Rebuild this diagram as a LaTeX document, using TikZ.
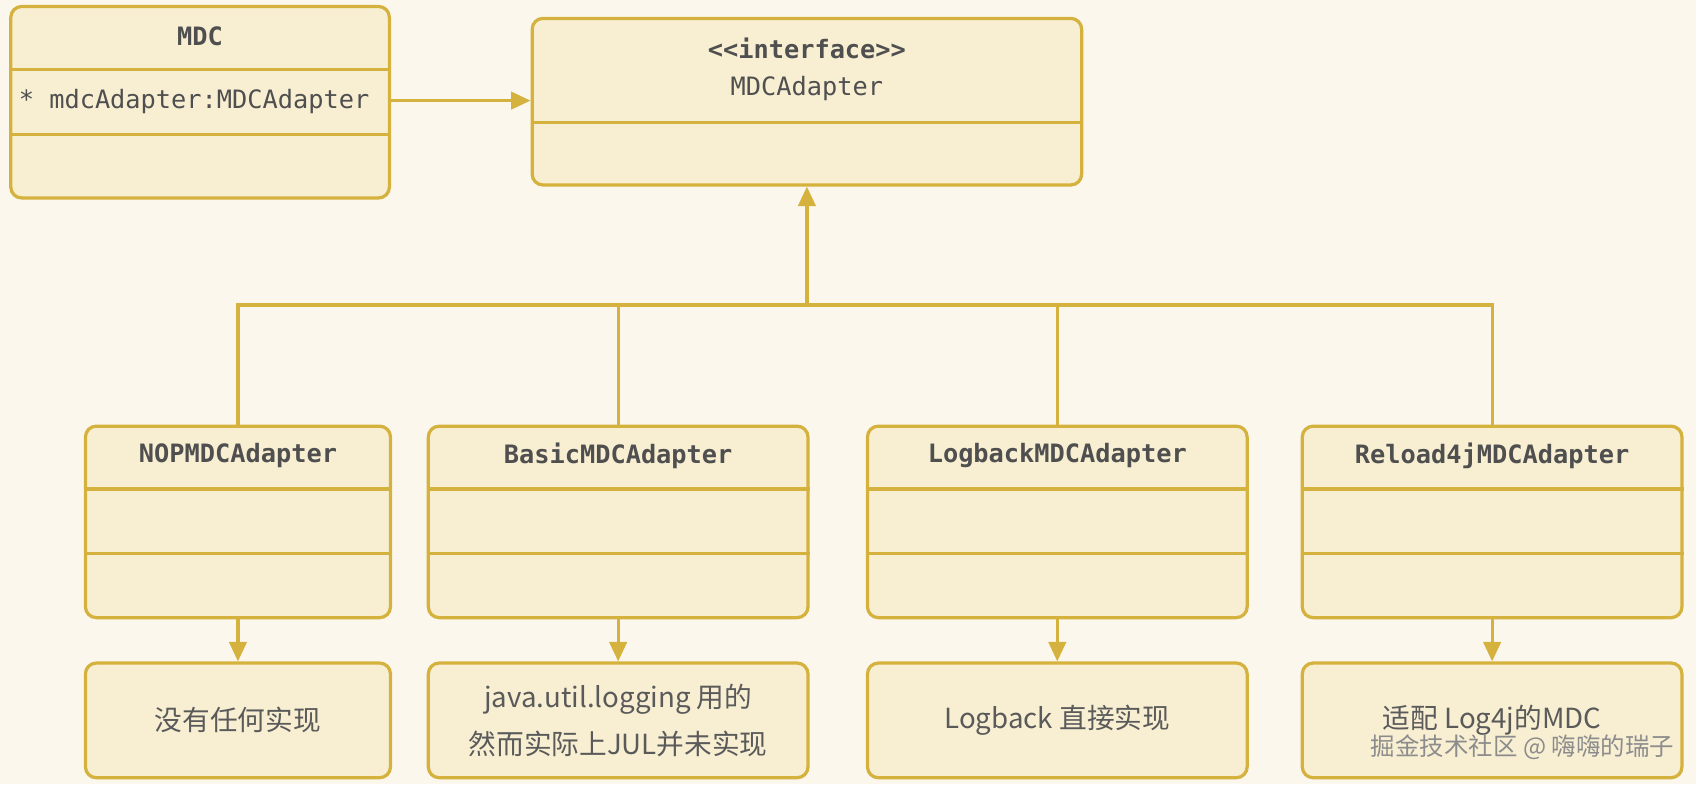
\documentclass[tikz,border=0pt]{standalone}
\usepackage{fontspec}
\setmonofont{DejaVu Sans Mono}
\newfontfamily\cjk{Noto Sans CJK SC}
\usetikzlibrary{fit,arrows.meta,calc}
\definecolor{bg}{HTML}{FBF7EC}
\definecolor{bfill}{HTML}{F8EFD3}
\definecolor{bline}{HTML}{D5B23E}
\definecolor{txt}{HTML}{4F4F4F}
\definecolor{ntxt}{HTML}{5A5A5A}
\begin{document}
\begin{tikzpicture}[x=0.5pt,y=-0.5pt,
 box/.style={draw=bline, fill=bfill, line width=1.5pt, rounded corners=5pt, inner sep=0pt},
 div/.style={draw=bline, line width=1.5pt},
 conn/.style={draw=bline, line width=1.5pt},
 arr/.style={conn, -{Triangle[length=9pt,width=8pt]}},
 mono/.style={font=\ttfamily\fontsize{11.7pt}{14pt}\selectfont, text=txt, inner sep=0pt},
 monob/.style={font=\ttfamily\bfseries\fontsize{11.7pt}{14pt}\selectfont, text=txt, inner sep=0pt},
 note/.style={font=\cjk\fontsize{12.8pt}{21.5pt}\selectfont, text=ntxt, align=center, inner sep=0pt},
 wm/.style={font=\cjk\fontsize{11.3pt}{13pt}\selectfont, text=black!45, inner sep=0pt}]
\fill[bg] (0,0) rectangle (1568,725);
\useasboundingbox (0,0) rectangle (1568,725);

% MDC class
\node[box, fit={(10,6) (360,183)}] (mdc) {};
\draw[div] (mdc.west |- 0,64) -- (mdc.east |- 0,64);
\draw[div] (mdc.west |- 0,124) -- (mdc.east |- 0,124);
\node[monob] (mdct) at (185,34) {MDC};
\node[mono, anchor=west] (mdca) at (17,94) {* mdcAdapter:MDCAdapter};

% interface
\node[box, fit={(492,17) (1000,171)}] (ia) {};
\draw[div] (ia.west |- 0,113) -- (ia.east |- 0,113);
\node[monob] (iat) at (746,45) {\textless\textless interface\textgreater\textgreater};
\node[mono] (ian) at (746,82) {MDCAdapter};

\draw[arr] (mdc.east |- 0,93) -- (ia.west |- 0,93);

% implementations
\foreach \nm/\xa/\xb/\ti in {nop/79/361/NOPMDCAdapter, bas/396/747/BasicMDCAdapter, lgb/802/1153/LogbackMDCAdapter, rel/1204/1555/Reload4jMDCAdapter}{
  \node[box, fit={(\xa,394) (\xb,571)}] (\nm) {};
  \draw[div] (\nm.west |- 0,452) -- (\nm.east |- 0,452);
  \draw[div] (\nm.west |- 0,512) -- (\nm.east |- 0,512);
  \node[monob] (\nm t) at ($(\nm.north)+(0,29)$) {\ti};
  \node[box, fit={(\xa,613) (\xb,719)}] (\nm n) {};
  \draw[arr] (\nm.south) -- (\nm n.north);
}

% inheritance
\coordinate (bus) at (746,282);
\draw[arr] (bus) -- (ia.south);
\draw[conn] (nop.north) |- (rel.north |- bus) -- (rel.north);
\foreach \nm in {bas,lgb}{
  \draw[conn] (\nm.north) -- (\nm.north |- bus);
}

% notes
\node[note] (nopx) at (nopn.center) {没有任何实现};
\node[note] (basx) at (basn.center) {java.util.logging 用的\\然而实际上JUL并未实现};
\node[note] (lgbx) at (lgbn.center) {Logback 直接实现};
\node[note] (relx) at (reln.center) {适配 Log4j的MDC};
\node[wm, anchor=east] (wmk) at (1548,691) {掘金技术社区 @ 嗨嗨的瑞子};
\end{tikzpicture}
\end{document}
